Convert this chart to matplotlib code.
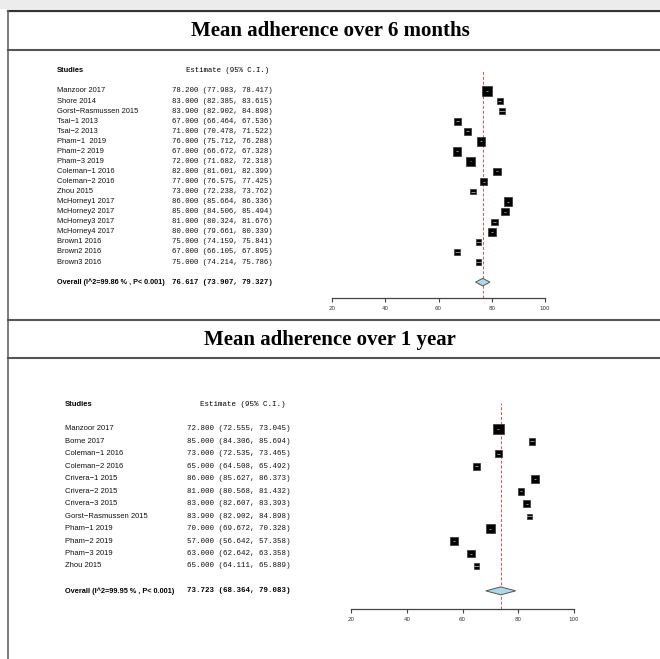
import matplotlib
matplotlib.use("Agg")
import matplotlib.pyplot as plt
from matplotlib.lines import Line2D
from matplotlib.patches import Rectangle, Polygon
from matplotlib.transforms import blended_transform_factory

# ---- data: mean adherence over 6 months ----
studies_6m = ["Manzoor 2017", "Shore 2014", "Gorst\u2212Rasmussen 2015", "Tsai\u22121 2013",
              "Tsai\u22122 2013", "Pham\u22121  2019", "Pham\u22122 2019", "Pham\u22123 2019",
              "Coleman\u22121 2016", "Coleman\u22122 2016", "Zhou 2015", "McHorney1 2017",
              "McHorney2 2017", "McHorney3 2017", "McHorney4 2017", "Brown1 2016",
              "Brown2 2016", "Brown3 2016"]
est_6m = [78.2, 83.0, 83.9, 67.0, 71.0, 76.0, 67.0, 72.0, 82.0, 77.0, 73.0, 86.0,
          85.0, 81.0, 80.0, 75.0, 67.0, 75.0]
lo_6m = [77.983, 82.385, 82.902, 66.464, 70.478, 75.712, 66.672, 71.682, 81.601, 76.575,
         72.238, 85.664, 84.506, 80.324, 79.661, 74.159, 66.105, 74.214]
hi_6m = [78.417, 83.615, 84.898, 67.536, 71.522, 76.288, 67.328, 72.318, 82.399, 77.425,
         73.762, 86.336, 85.494, 81.676, 80.339, 75.841, 67.895, 75.786]
weight_6m = [9.3, 5.7, 5.0, 6.3, 6.3, 8.0, 8.0, 7.7, 6.7, 6.3, 5.3, 7.7, 6.7, 5.7, 7.0,
             5.0, 5.0, 5.3]
overall_6m = (76.617, 73.907, 79.327)
het_6m = "Overall (I^2=99.86 % , P< 0.001)"

# ---- data: mean adherence over 1 year ----
studies_1y = ["Manzoor 2017", "Borne 2017", "Coleman\u22121 2016", "Coleman\u22122 2016",
              "Crivera\u22121 2015", "Crivera\u22122 2015", "Crivera\u22123 2015",
              "Gorst\u2212Rasmussen 2015", "Pham\u22121 2019", "Pham\u22122 2019",
              "Pham\u22123 2019", "Zhou 2015"]
est_1y = [72.8, 85.0, 73.0, 65.0, 86.0, 81.0, 83.0, 83.9, 70.0, 57.0, 63.0, 65.0]
lo_1y = [72.555, 84.306, 72.535, 64.508, 85.627, 80.568, 82.607, 82.902, 69.672, 56.642,
         62.642, 64.111]
hi_1y = [73.045, 85.694, 73.465, 65.492, 86.373, 81.432, 83.393, 84.898, 70.328, 57.358,
         63.358, 65.889]
weight_1y = [10.0, 6.0, 6.5, 6.7, 7.3, 6.3, 6.7, 4.7, 7.7, 8.0, 7.3, 5.3]
overall_1y = (73.723, 68.364, 79.083)
het_1y = "Overall (I^2=99.95 % , P< 0.001)"

ticks = [20, 40, 60, 80, 100]

W, H = 660, 659
fig = plt.figure(figsize=(W / 100, H / 100), dpi=100)
fig.patch.set_facecolor("white")

SANS = "Liberation Sans"
MONO = "Liberation Mono"
SERIF = "Liberation Serif"


def fx(px):
    return px / W


def fy(py):
    # py measured from the top of the picture
    return 1 - py / H


def hline(py, color="#555555", lw=1.5, x0=8, x1=W):
    fig.add_artist(Line2D([fx(x0), fx(x1)], [fy(py), fy(py)], color=color, lw=lw))


def forest(studies, est, lo, hi, weight, overall, het, box, label_x, value_x, head_x,
           fs_lab, fs_mono, fs_bold):
    """box = (x20_px, x100_px, header_py, first_row_py, row_gap, axis_py)"""
    x20, x100, head_py, row0_py, gap, axis_py = box
    ax = fig.add_axes([fx(x20), fy(axis_py), fx(x100 - x20), (axis_py - head_py) / H])
    ax.set_xlim(20, 100)
    y_top = (head_py - row0_py) / gap
    y_bot = (axis_py - row0_py) / gap
    ax.set_ylim(y_bot, y_top)
    ax.patch.set_visible(False)
    for s in ["top", "right", "left"]:
        ax.spines[s].set_visible(False)
    ax.spines["bottom"].set_color("#444444")
    ax.spines["bottom"].set_linewidth(0.9)
    ax.spines["bottom"].set_bounds(20, 100)
    ax.set_yticks([])
    ax.set_xticks(ticks)
    ax.tick_params(axis="x", direction="out", length=3, width=0.8, color="#444444",
                   labelsize=4, labelcolor="#333333", pad=2.5)

    n = len(studies)
    rows = list(range(n))
    tr = blended_transform_factory(fig.transFigure, ax.transData)

    # header
    ax.text(fx(label_x), -2, "Studies", transform=tr, fontsize=fs_lab,
            fontweight="bold", family=SANS, va="center", ha="left")
    ax.text(fx(head_x), -2, "Estimate (95% C.I.)", transform=tr, fontsize=fs_mono,
            family=MONO, va="center", ha="left")

    for i in rows:
        ax.text(fx(label_x), i, studies[i], transform=tr, fontsize=fs_lab, family=SANS,
                va="center", ha="left", color="#111111")
        ax.text(fx(value_x), i, f"{est[i]:.3f} ({lo[i]:.3f}, {hi[i]:.3f})", transform=tr,
                fontsize=fs_mono, family=MONO, va="center", ha="left", color="#111111")

    oy = n + 1
    ax.text(fx(label_x), oy, het, transform=tr, fontsize=fs_bold, family=SANS,
            fontweight="bold", va="center", ha="left")
    ax.text(fx(value_x), oy, f"{overall[0]:.3f} ({overall[1]:.3f}, {overall[2]:.3f})",
            transform=tr, fontsize=fs_mono, family=MONO, fontweight="bold",
            va="center", ha="left")

    # reference line at the pooled estimate
    ax.axvline(overall[0], ymin=0, ymax=1, color="#d9534f", lw=0.7, ls=(0, (3, 2)), zorder=1)

    # study boxes with their (narrow) confidence intervals
    ax.scatter(est, rows, marker="s", s=[(w * 0.78) ** 2 for w in weight], color="black",
               edgecolors="#333333", linewidths=0.5, zorder=3)
    ax.hlines(rows, lo, hi, color="#cccccc", lw=0.5, zorder=4)

    # pooled diamond
    h = 0.38 if gap < 11 else 0.32
    ax.add_patch(Polygon([(overall[1], oy), (overall[0], oy - h), (overall[2], oy),
                          (overall[0], oy + h)], closed=True, facecolor="#add8e6",
                         edgecolor="#555555", lw=0.7, zorder=3))
    return ax


# frame and title bands
fig.add_artist(Rectangle((0, fy(9)), 1, 9 / H, color="#ececec", lw=0))
hline(11, color="#333333", lw=1.6, x0=8)
fig.add_artist(Line2D([fx(8), fx(8)], [fy(11), 0], color="#666666", lw=1.2))
hline(50)
hline(320)
hline(358)

fig.text(0.5, fy(31), "Mean adherence over 6 months", ha="center", va="center",
         family=SERIF, fontweight="bold", fontsize=15)
fig.text(0.5, fy(340), "Mean adherence over 1 year", ha="center", va="center",
         family=SERIF, fontweight="bold", fontsize=15)

forest(studies_6m, est_6m, lo_6m, hi_6m, weight_6m, overall_6m, het_6m,
       (332, 545, 71, 91, 10.06, 298), label_x=57, value_x=172, head_x=186,
       fs_lab=5.4, fs_mono=5.3, fs_bold=5.2)
forest(studies_1y, est_1y, lo_1y, hi_1y, weight_1y, overall_1y, het_1y,
       (351, 574, 403, 429, 12.45, 609), label_x=65, value_x=187, head_x=200,
       fs_lab=5.5, fs_mono=5.45, fs_bold=5.3)

fig.savefig("out.png", dpi=100)
